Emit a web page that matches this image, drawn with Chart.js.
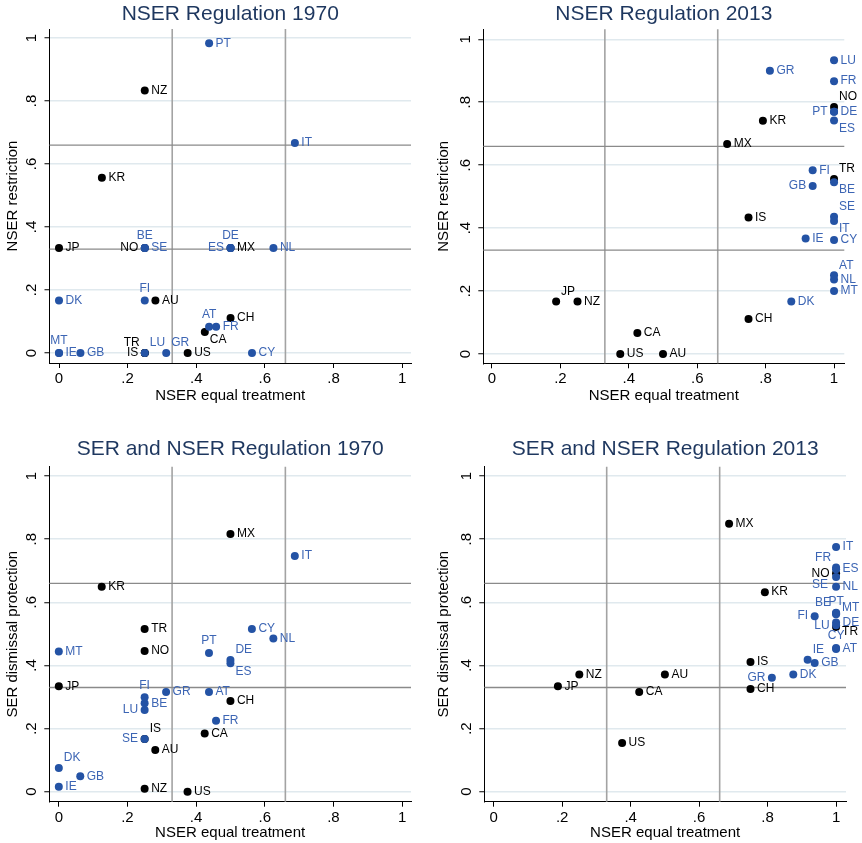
<!DOCTYPE html>
<html><head><meta charset="utf-8">
<script src="https://cdn.jsdelivr.net/npm/chart.js@4/dist/chart.umd.min.js"></script>
<style>
html,body{margin:0;padding:0;background:#fff;}
#wrap{position:relative;width:862px;height:843px;overflow:hidden;}
canvas{position:absolute;}
</style></head><body>
<div id="wrap">
<canvas id="c1" style="left:0px;top:0px" width="431" height="421"></canvas>
<canvas id="c2" style="left:431px;top:0px" width="431" height="421"></canvas>
<canvas id="c3" style="left:0px;top:421px" width="431" height="422"></canvas>
<canvas id="c4" style="left:431px;top:421px" width="431" height="422"></canvas>
</div>
<script>
// ---- data ----
const countries = ['AT','AU','BE','CA','CH','CY','DE','DK','ES','FI','FR','GB','GR','IE','IS','IT','JP','KR','LU','MT','MX','NL','NO','NZ','PT','SE','TR','US'];
const euMember   = [1,0,1,0,0,1,1,1,1,1,1,1,1,1,0,1,0,0,1,1,0,1,0,0,1,1,0,0];
const equalTreatment1970 = [0.4375,0.281,0.25,0.425,0.5,0.5625,0.5,0,0.5,0.25,0.458,0.0625,0.3125,0,0.25,0.6875,0,0.125,0.25,0,0.5,0.625,0.25,0.25,0.4375,0.25,0.25,0.375];
const equalTreatment2013 = [1,0.5,1,0.425,0.75,1,1,0.875,1,0.9375,1,0.9375,0.8125,0.917,0.75,1,0.1875,0.792,1,1,0.6875,1,1,0.25,1,1,1,0.375];
const restriction1970 = [0.083,0.167,0.333,0.067,0.111,0,0.333,0.167,0.333,0.167,0.083,0,0,0,0,0.667,0.333,0.556,0,0,0.333,0.333,0.333,0.833,0.983,0.333,0,0];
const restriction2013 = [0.25,0,0.546,0.067,0.111,0.362,0.77,0.167,0.742,0.584,0.867,0.534,0.9,0.367,0.434,0.423,0.167,0.741,0.933,0.2,0.667,0.237,0.785,0.167,0.77,0.436,0.556,0];
const dismissal1970 = [0.316,0.132,0.28,0.184,0.287,0.515,0.417,0.075,0.407,0.299,0.225,0.049,0.316,0.016,0.167,0.747,0.334,0.649,0.259,0.444,0.816,0.485,0.446,0.009,0.439,0.167,0.515,0];
const dismissal2013 = [0.452,0.371,0.567,0.316,0.325,0.455,0.536,0.371,0.705,0.556,0.71,0.408,0.361,0.418,0.411,0.775,0.334,0.632,0.527,0.562,0.849,0.649,0.692,0.371,0.565,0.68,0.522,0.154];
const axisTicks  = [0,0.2,0.4,0.6,0.8,1];
const tickLabels = ['0','.2','.4','.6','.8','1'];
const refLines   = [0.33,0.66];

// ---- styling / layout ----
const FONT = "'Liberation Sans', Arial, sans-serif";
Chart.defaults.font.family = FONT;
const BLUE_DOT = '#2453a5', BLUE_TXT = '#3c65b4', BLACK = '#000000';
const CLOCK = {
  3:{dx:6.5,dy:0,a:'left'}, 9:{dx:-6.5,dy:0,a:'right'}, 12:{dx:0,dy:-12,a:'center'},
  1:{dx:5,dy:-10,a:'left'}, 11:{dx:-5,dy:-10,a:'right'}, 2:{dx:6,dy:-7,a:'left'},
  4:{dx:6,dy:5,a:'left'}, 5:{dx:5,dy:8,a:'left'}, 8:{dx:-8,dy:8,a:'right'}
};

const panels = [
  {id:'c1', title:'NSER Regulation 1970', yTitle:'NSER restriction', xs:equalTreatment1970, ys:restriction1970,
   pos:{NO:9,BE:12,DE:12,ES:9,FI:12,AT:12,CA:5,MT:12,TR:11,IS:9,LU:1,GR:1},
   g:{W:49.5,H:58,padR:20,tt:1.4,tb:2.4,xpb:16,xmin:-0.0277,xmax:1.026,ymin:-0.0317,ymax:1.0286}},
  {id:'c2', title:'NSER Regulation 2013', yTitle:'NSER restriction', xs:equalTreatment2013, ys:restriction2013,
   pos:{NO:1,PT:9,ES:5,TR:1,BE:5,GB:9,SE:1,IT:5,AT:1,JP:1},
   g:{W:52.3,H:57.7,padR:17.7,tt:1.7,tb:2.4,xpb:16,xmin:-0.0254,xmax:1.030,ymin:-0.0295,ymax:1.0317}},
  {id:'c3', title:'SER and NSER Regulation 1970', yTitle:'SER dismissal protection', xs:equalTreatment1970, ys:dismissal1970,
   pos:{PT:12,DE:1,ES:5,FI:12,LU:9,IS:1,SE:9,DK:1},
   g:{W:49.3,H:41.3,padR:20,tt:15.7,tb:4.8,xpb:0.7,xmin:-0.0277,xmax:1.026,ymin:-0.0317,ymax:1.0295}},
  {id:'c4', title:'SER and NSER Regulation 2013', yTitle:'SER dismissal protection', xs:equalTreatment2013, ys:dismissal2013,
   pos:{FR:11,NO:9,SE:8,BE:11,PT:12,MT:2,LU:9,TR:4,FI:9,CY:12,IE:1,GR:9},
   g:{W:53.3,H:41.3,padR:16,tt:15.7,tb:4.8,xpb:0.7,xmin:-0.0275,xmax:1.029,ymin:-0.0317,ymax:1.0295}}
];

const refPlugin = {
  id:'refs',
  beforeDatasetsDraw(chart){
    const {ctx, chartArea:a, scales:{x,y}} = chart;
    ctx.save();
    refLines.forEach(v=>{
      const px = x.getPixelForValue(v);
      ctx.strokeStyle='#a3a3a3'; ctx.lineWidth=1.6;
      ctx.beginPath(); ctx.moveTo(px,a.top); ctx.lineTo(px,a.bottom); ctx.stroke();
    });
    refLines.forEach(v=>{
      const py = y.getPixelForValue(v);
      ctx.strokeStyle='#8a8a8a'; ctx.lineWidth=1.3;
      ctx.beginPath(); ctx.moveTo(a.left,py); ctx.lineTo(a.right,py); ctx.stroke();
    });
    ctx.restore();
  }
};
const labelPlugin = {
  id:'mlabels',
  afterDatasetsDraw(chart, args, opts){
    const ctx = chart.ctx;
    ctx.save();
    ctx.font = '12px ' + FONT;
    ctx.textBaseline = 'middle';
    chart.data.datasets.forEach((ds,di)=>{
      const meta = chart.getDatasetMeta(di);
      meta.data.forEach((el,i)=>{
        const code = ds.data[i].code;
        const o = CLOCK[opts.positions[code] || 3];
        ctx.fillStyle = ds.labelColor;
        ctx.textAlign = o.a;
        ctx.fillText(code, el.x + o.dx, el.y + o.dy);
      });
    });
    ctx.restore();
  }
};

panels.forEach(p=>{
  const g = p.g;
  const pts = countries.map((c,i)=>({x:p.xs[i], y:p.ys[i], code:c, eu:euMember[i]}));
  const setTicks = s => { s.ticks = axisTicks.map(v=>({value:v})); };
  new Chart(document.getElementById(p.id), {
    type:'scatter',
    data:{datasets:[
      {data:pts.filter(d=>d.eu), backgroundColor:BLUE_DOT, labelColor:BLUE_TXT, pointRadius:4, pointBorderWidth:0, pointHoverRadius:4},
      {data:pts.filter(d=>!d.eu), backgroundColor:BLACK, labelColor:BLACK, pointRadius:4, pointBorderWidth:0, pointHoverRadius:4}
    ]},
    options:{
      responsive:false, animation:false, events:[],
      layout:{padding:{left:0,right:g.padR,top:0,bottom:0}},
      plugins:{
        legend:{display:false}, tooltip:{enabled:false},
        title:{display:true, text:p.title, fullSize:false, color:'#1e375f',
               font:{size:21, weight:'normal', family:FONT}, padding:{top:g.tt, bottom:g.tb}},
        mlabels:{positions:p.pos}
      },
      scales:{
        x:{type:'linear', min:g.xmin, max:g.xmax,
           afterBuildTicks:setTicks, afterFit:s=>{s.height=g.H;},
           ticks:{callback:(v,i)=>tickLabels[i], font:{size:15}, color:'#000', padding:2, maxRotation:0, autoSkip:false},
           grid:{drawOnChartArea:false, tickLength:5, tickColor:'#000', tickWidth:1},
           border:{display:true, color:'#000', width:1},
           title:{display:true, text:'NSER equal treatment', color:'#000', font:{size:15}, padding:{top:0,bottom:g.xpb}}},
        y:{type:'linear', min:g.ymin, max:g.ymax,
           afterBuildTicks:setTicks, afterFit:s=>{s.width=g.W;},
           ticks:{callback:(v,i)=>tickLabels[i], font:{size:15}, color:'#000', padding:6, minRotation:90, maxRotation:90, crossAlign:'center', autoSkip:false},
           grid:{color:'#e0e9ee', lineWidth:1.5, tickLength:5, tickColor:'#000', tickWidth:1},
           border:{display:true, color:'#000', width:1},
           title:{display:true, text:p.yTitle, color:'#000', font:{size:15}, padding:{top:4.3,bottom:0}}}
      }
    },
    plugins:[refPlugin, labelPlugin]
  });
});
</script>
</body></html>
